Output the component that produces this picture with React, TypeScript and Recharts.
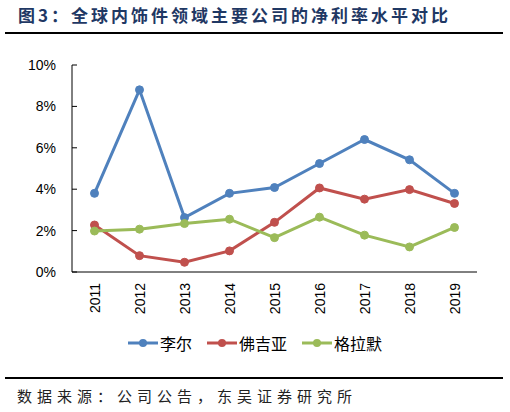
import React from "react";
import { LineChart, Line, XAxis, YAxis, Legend } from "recharts";

const years = [2011, 2012, 2013, 2014, 2015, 2016, 2017, 2018, 2019];
const lear = [3.8, 8.8, 2.63, 3.8, 4.08, 5.24, 6.4, 5.42, 3.8];
const faurecia = [2.27, 0.79, 0.47, 1.02, 2.4, 4.06, 3.52, 3.98, 3.31];
const grammer = [1.98, 2.07, 2.34, 2.55, 1.66, 2.65, 1.78, 1.21, 2.15];
const yTicks = [0, 2, 4, 6, 8, 10];
const edgeTicks = [2010.5, 2011.5, 2012.5, 2013.5, 2014.5, 2015.5, 2016.5, 2017.5, 2018.5, 2019.5];

const seriesDefs = [
  { key: "lear", name: "李尔", color: "#4F81BD" },
  { key: "faurecia", name: "佛吉亚", color: "#C0504D" },
  { key: "grammer", name: "格拉默", color: "#9BBB59" },
];

const data = years.map((y, i) => ({ year: y, lear: lear[i], faurecia: faurecia[i], grammer: grammer[i] }));

const FONT = "'Liberation Sans', Arial, sans-serif";
const CJK = "'Noto Sans CJK SC', 'Noto Sans', sans-serif";

function YearTick(props: any) {
  const { x, y, payload } = props;
  return (
    <text
      x={x}
      y={y}
      transform={`rotate(-90 ${x} ${y})`}
      textAnchor="end"
      dominantBaseline="central"
      fontSize={14}
      fontFamily={FONT}
      fill="#000"
    >
      {payload.value}
    </text>
  );
}

function LegendContent(props: any) {
  const payload: any[] = props.payload || [];
  // keep the series order, not the sorted one
  const ordered = seriesDefs
    .map((s) => payload.find((p) => p.value === s.name))
    .filter(Boolean);
  return (
    <div style={{ display: "flex", justifyContent: "center", alignItems: "center", gap: 15 }}>
      {ordered.map((p: any) => (
        <div key={p.value} style={{ display: "flex", alignItems: "center" }}>
          <svg width={30} height={10} style={{ marginRight: 2 }}>
            <line x1={0} y1={5} x2={30} y2={5} stroke={p.color} strokeWidth={3} />
            <circle cx={15} cy={5} r={4} fill={p.color} />
          </svg>
          <span style={{ fontFamily: CJK, fontSize: 16, color: "#000", lineHeight: "20px" }}>{p.value}</span>
        </div>
      ))}
    </div>
  );
}

export default function App() {
  return (
    <div style={{ position: "absolute", left: 0, top: 0, width: 510, height: 412, background: "#fff", overflow: "hidden" }}>
      <div
        style={{
          position: "absolute",
          left: 18,
          top: 4,
          fontFamily: CJK,
          fontWeight: 700,
          fontSize: 17,
          letterSpacing: 3,
          color: "#1F3864",
          lineHeight: "22px",
          whiteSpace: "nowrap",
        }}
      >
        图3：全球内饰件领域主要公司的净利率水平对比
      </div>
      <div style={{ position: "absolute", left: 5, top: 32, width: 498, height: 2, background: "#000" }} />

      <div style={{ position: "absolute", left: 0, top: 0 }}>
        <LineChart width={510} height={380} data={data} margin={{ top: 65, right: 33, left: 0, bottom: 47 }}>
          <XAxis
            xAxisId="edge"
            dataKey="year"
            type="number"
            domain={[2010.5, 2019.5]}
            ticks={edgeTicks}
            interval={0}
            tick={false}
            tickSize={-5}
            height={1}
            axisLine={{ stroke: "#000" }}
            tickLine={{ stroke: "#000" }}
          />
          <XAxis
            xAxisId="year"
            dataKey="year"
            type="number"
            domain={[2010.5, 2019.5]}
            ticks={years}
            interval={0}
            axisLine={false}
            tickLine={false}
            tickSize={0}
            tickMargin={10}
            height={60}
            tick={<YearTick />}
          />
          <YAxis
            domain={[0, 10]}
            ticks={yTicks}
            width={72}
            tickSize={-5}
            tickMargin={21}
            tickFormatter={(v: number) => `${v}%`}
            tick={{ fontSize: 14, fontFamily: FONT, fill: "#000" }}
            axisLine={{ stroke: "#000" }}
            tickLine={{ stroke: "#000" }}
          />
          <Legend
            layout="horizontal"
            verticalAlign="middle"
            align="center"
            wrapperStyle={{ top: 333, left: 0, width: 510 }}
            content={<LegendContent />}
          />
          {seriesDefs.map((s) => (
            <Line
              key={s.key}
              xAxisId="year"
              dataKey={s.key}
              name={s.name}
              stroke={s.color}
              strokeWidth={3}
              dot={{ r: 4, fill: s.color, stroke: s.color, strokeWidth: 1 }}
              activeDot={false}
              isAnimationActive={false}
            />
          ))}
        </LineChart>
      </div>

      <div style={{ position: "absolute", left: 5, top: 377, width: 498, height: 1.5, background: "#000" }} />
      <div
        style={{
          position: "absolute",
          left: 17,
          top: 386,
          fontFamily: CJK,
          fontSize: 15,
          letterSpacing: 5,
          color: "#222",
          lineHeight: "20px",
          whiteSpace: "nowrap",
        }}
      >
        数据来源：公司公告，东吴证券研究所
      </div>
    </div>
  );
}
